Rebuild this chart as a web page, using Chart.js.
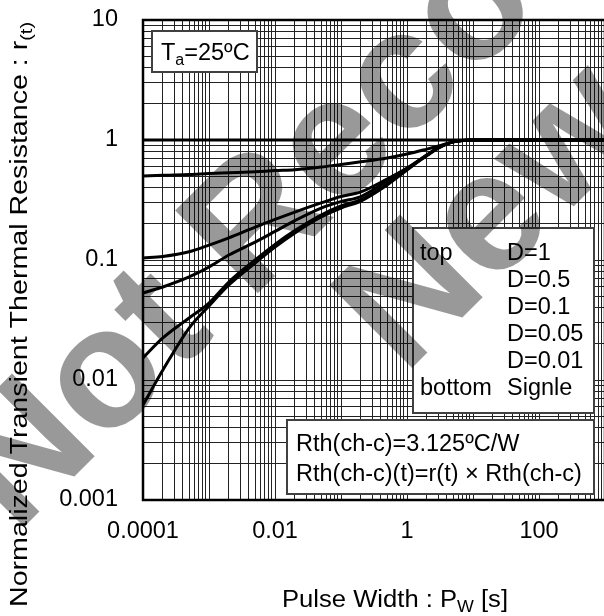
<!DOCTYPE html>
<html>
<head>
<meta charset="utf-8">
<script src="https://cdn.jsdelivr.net/npm/chart.js@4.4.1/dist/chart.umd.min.js"></script>
<style>
  html, body { margin: 0; padding: 0; background: #fff; overflow: hidden; }
  #wrap { width: 612px; height: 616px; }
</style>
</head>
<body>
<div id="wrap"><canvas id="chart" width="612" height="616"></canvas></div>
<script>
// Pulse width [s]
const pulseWidth = [1e-4, 2e-4, 5e-4, 1e-3, 2e-3, 5e-3, 0.01, 0.02, 0.05, 0.1, 0.2, 0.5, 1, 2, 3, 5, 10, 1000];

// Normalized transient thermal resistance r(t), one array per duty
const rD1    = [1, 1, 1, 1, 1, 1, 1, 1, 1, 1, 1, 1, 1, 1, 1, 1, 1, 1];
const rD05   = [0.50, 0.508, 0.515, 0.525, 0.533, 0.544, 0.556, 0.565, 0.595, 0.626, 0.658, 0.708, 0.764, 0.84, 0.891, 0.965, 1, 1];
const rD01   = [0.104, 0.107, 0.117, 0.133, 0.153, 0.188, 0.218, 0.251, 0.299, 0.338, 0.369, 0.473, 0.584, 0.75, 0.87, 0.965, 1, 1];
const rD005  = [0.0531, 0.0596, 0.0722, 0.0874, 0.110, 0.141, 0.173, 0.213, 0.271, 0.307, 0.338, 0.455, 0.573, 0.74, 0.86, 0.965, 1, 1];
const rD001  = [0.0153, 0.0224, 0.0329, 0.0438, 0.0656, 0.100, 0.135, 0.176, 0.237, 0.282, 0.319, 0.43, 0.573, 0.75, 0.858, 0.965, 1, 1];
const rSingle = [0.0062, 0.0121, 0.0271, 0.0414, 0.0619, 0.0944, 0.128, 0.168, 0.228, 0.271, 0.31, 0.422, 0.562, 0.75, 0.858, 0.965, 1, 1];

const seriesNames = ['D=1', 'D=0.5', 'D=0.1', 'D=0.05', 'D=0.01', 'Signle'];
const seriesData = [rD1, rD05, rD01, rD005, rD001, rSingle];

// Tick labels shown on the axes
const xTickLabels = ['0.0001', '0.01', '1', '100'];
const yTickLabels = ['0.001', '0.01', '0.1', '1', '10'];

const FONT = '"Liberation Sans", Arial, sans-serif';

// log ticks 1..9 x 10^n
function logTicks(fromExp, toExp) {
    const ticks = [];
    for (let e = fromExp; e < toExp; e++) {
        for (let m = 1; m <= 9; m++) ticks.push({ value: +(m * Math.pow(10, e)).toPrecision(3) });
    }
    ticks.push({ value: Math.pow(10, toExp) });
    return ticks;
}

function tickLabel(list) {
    return function (value) {
        const hit = list.find(s => Math.abs(Math.log10(parseFloat(s)) - Math.log10(value)) < 1e-6);
        return hit || '';
    };
}

// text with subscripts, parts = [[text, isSub], ...]
function drawRich(ctx, parts, x, y, size, targetWidth) {
    const subSize = Math.round(size * 0.68);
    let total = 0;
    parts.forEach(([t, sub]) => {
        ctx.font = (sub ? subSize : size) + 'px ' + FONT;
        total += ctx.measureText(t).width;
    });
    const sx = targetWidth ? targetWidth / total : 1;
    ctx.save();
    ctx.translate(x, y);
    ctx.scale(sx, 1);
    let cx = 0;
    parts.forEach(([t, sub]) => {
        ctx.font = (sub ? subSize : size) + 'px ' + FONT;
        ctx.fillText(t, cx, sub ? size * 0.22 : 0);
        cx += ctx.measureText(t).width;
    });
    ctx.restore();
}

function box(ctx, x, y, w, h) {
    ctx.save();
    ctx.fillStyle = '#fff';
    ctx.fillRect(x, y, w, h);
    ctx.strokeStyle = '#404040';
    ctx.lineWidth = 2;
    ctx.strokeRect(x, y, w, h);
    ctx.restore();
}

const annotPlugin = {
    id: 'annot',
    afterDraw(chart) {
        const ctx = chart.ctx;
        const a = chart.chartArea;
        ctx.save();
        // frame
        ctx.strokeStyle = '#000';
        ctx.lineWidth = 2.5;
        ctx.strokeRect(a.left, a.top, a.right - a.left, a.bottom - a.top);

        ctx.fillStyle = '#000';
        ctx.textAlign = 'left';
        ctx.textBaseline = 'alphabetic';

        // Ta box
        box(ctx, 152, 31, 105, 41);
        drawRich(ctx, [['T', false], ['a', true], ['=25ºC', false]], 161, 60, 23.5);

        // duty legend
        box(ctx, 413, 228, 181, 185);
        ctx.font = '23.5px ' + FONT;
        ctx.fillText('top', 420, 260);
        ctx.fillText('bottom', 420, 395);
        seriesNames.forEach((n, i) => ctx.fillText(n, 507, 260 + i * 27));

        // Rth box
        box(ctx, 287, 420, 307, 74);
        ctx.fillText('Rth(ch-c)=3.125ºC/W', 296, 451);
        ctx.fillText('Rth(ch-c)(t)=r(t) × Rth(ch-c)', 296, 481);

        // axis titles
        drawRich(ctx, [['Pulse Width : P', false], ['W', true], [' [s]', false]], 282, 607, 23, 226);
        ctx.save();
        ctx.translate(27, 607);
        ctx.rotate(-Math.PI / 2);
        drawRich(ctx, [['Normalized Transient Thermal Resistance : r', false], ['(t)', true]], 0, 0, 23, 585);
        ctx.restore();

        // watermark
        ctx.fillStyle = 'rgba(0,0,0,0.4)';
        ctx.font = 'bold 170px ' + FONT;
        ctx.save();
        ctx.translate(16, 535);
        ctx.rotate(-Math.PI / 4);
        ctx.fillText('Not Recommended for', 0, 0);
        ctx.restore();
        ctx.save();
        ctx.translate(404, 376);
        ctx.rotate(-Math.PI / 4);
        ctx.fillText('New Design', 0, 0);
        ctx.restore();

        ctx.restore();
    }
};

new Chart(document.getElementById('chart'), {
    type: 'line',
    data: {
        datasets: seriesData.map((vals, i) => ({
            label: seriesNames[i],
            data: pulseWidth.map((x, j) => ({ x: x, y: vals[j] })),
            borderColor: '#000',
            borderWidth: 3,
            pointRadius: 0,
            fill: false,
            cubicInterpolationMode: 'monotone'
        }))
    },
    options: {
        responsive: false,
        animation: false,
        layout: { padding: { top: 20, right: 7, left: 0, bottom: 0 } },
        plugins: { legend: { display: false }, tooltip: { enabled: false } },
        scales: {
            x: {
                type: 'logarithmic',
                min: 1e-4,
                max: 1000,
                afterBuildTicks: s => { s.ticks = logTicks(-4, 3); },
                afterFit: s => { s.height = 116; s.paddingLeft = 0; s.paddingRight = 0; },
                border: { display: false },
                grid: { color: '#222', lineWidth: 1, drawTicks: false },
                ticks: {
                    autoSkip: false, maxRotation: 0, padding: 17,
                    color: '#000', font: { family: FONT, size: 23.5 },
                    callback: tickLabel(xTickLabels)
                }
            },
            y: {
                type: 'logarithmic',
                min: 0.001,
                max: 10,
                afterBuildTicks: s => { s.ticks = logTicks(-3, 1); },
                afterFit: s => { s.width = 143; s.paddingTop = 0; s.paddingBottom = 0; },
                border: { display: false },
                grid: { color: '#222', lineWidth: 1, drawTicks: false },
                ticks: {
                    autoSkip: false, padding: 25,
                    color: '#000', font: { family: FONT, size: 23.5 },
                    callback: tickLabel(yTickLabels)
                }
            }
        }
    },
    plugins: [annotPlugin]
});
</script>
</body>
</html>
